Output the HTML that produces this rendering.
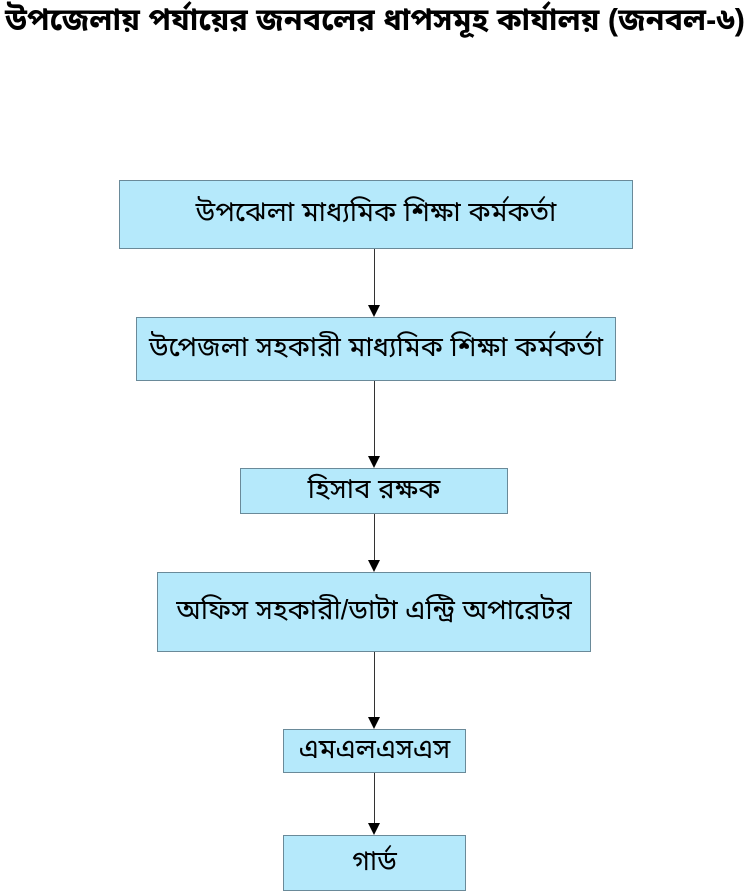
<!DOCTYPE html>
<html><head><meta charset="utf-8"><style>
html,body{margin:0;padding:0;background:#fff;width:750px;height:892px;overflow:hidden;position:relative;font-family:"Liberation Sans","Noto Sans Bengali","Noto Sans CJK SC",sans-serif;}
.t{position:absolute;left:-10px;top:0;width:770px;text-align:center;font-size:30.5px;line-height:40px;white-space:nowrap;font-weight:bold;}
.b{position:absolute;background:#b5e9fb;border:1px solid #6a8a99;box-sizing:border-box;display:flex;align-items:center;justify-content:center;font-size:27.5px;white-space:nowrap;color:#000;}
.l{position:absolute;left:374px;width:1px;background:#333;}
.a{position:absolute;left:368px;width:0;height:0;border-left:6px solid transparent;border-right:6px solid transparent;border-top:12px solid #000;}
</style></head><body>
<div class="t">উপজেলায় পর্যায়ের জনবলের ধাপসমূহ কার্যালয় (জনবল-৬)</div>
<div class="b" style="left:119px;top:180px;width:514px;height:69px">উপঝেলা মাধ্যমিক শিক্ষা কর্মকর্তা</div>
<div class="l" style="top:249px;height:56px"></div><div class="a" style="top:305px"></div>
<div class="b" style="left:136px;top:317px;width:480px;height:64px">উপেজলা সহকারী মাধ্যমিক শিক্ষা কর্মকর্তা</div>
<div class="l" style="top:381px;height:75px"></div><div class="a" style="top:456px"></div>
<div class="b" style="left:240px;top:468px;width:268px;height:46px">হিসাব রক্ষক</div>
<div class="l" style="top:514px;height:46px"></div><div class="a" style="top:560px"></div>
<div class="b" style="left:157px;top:572px;width:434px;height:80px">অফিস সহকারী/ডাটা এন্ট্রি অপারেটর</div>
<div class="l" style="top:652px;height:65px"></div><div class="a" style="top:717px"></div>
<div class="b" style="left:283px;top:729px;width:183px;height:44px">এমএলএসএস</div>
<div class="l" style="top:773px;height:50px"></div><div class="a" style="top:823px"></div>
<div class="b" style="left:283px;top:835px;width:183px;height:56px">গার্ড</div>
</body></html>
